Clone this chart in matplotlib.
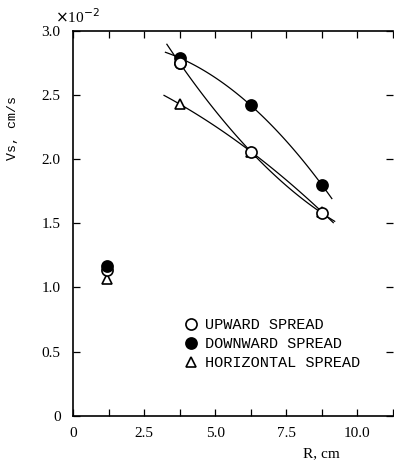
import numpy as np
import matplotlib
matplotlib.use("Agg")
import matplotlib.pyplot as plt
from matplotlib.lines import Line2D

# Data (values x 1e-2 cm/s)
R_up = [1.2, 3.75, 6.25, 8.75]
V_up = [1.14, 2.75, 2.06, 1.58]
R_down = [1.2, 3.75, 6.25, 8.75]
V_down = [1.17, 2.79, 2.42, 1.80]
R_hor = [1.2, 3.75, 6.25, 8.75]
V_hor = [1.065, 2.43, 2.06, 1.59]

labels = ["UPWARD SPREAD", "DOWNWARD SPREAD", "HORIZONTAL SPREAD"]
xticks = [0, 2.5, 5.0, 7.5, 10.0]
xtick_labels = ["0", "2.5", "5.0", "7.5", "10.0"]
yticks = [0, 0.5, 1.0, 1.5, 2.0, 2.5, 3.0]
ytick_labels = ["0", "0.5", "1.0", "1.5", "2.0", "2.5", "3.0"]

# fit-curve ranges
fit_ranges = {"up": (3.3, 9.2), "down": (3.25, 9.1), "hor": (3.2, 9.15)}

W, H = 394, 469
fig = plt.figure(figsize=(W / 100, H / 100), dpi=100)
ax = fig.add_axes([73 / W, (H - 415.7) / H, (393 - 73) / W, (415.7 - 31) / H])

serif = "Liberation Serif"
mono = "Liberation Mono"
lw = 0.9
ms = 7.5

def fitline(R, V, rng):
    c = np.polyfit(R[1:], V[1:], 2)
    xs = np.linspace(rng[0], rng[1], 100)
    ax.plot(xs, np.polyval(c, xs), color="black", lw=lw, zorder=2)

fitline(R_up, V_up, fit_ranges["up"])
fitline(R_down, V_down, fit_ranges["down"])
fitline(R_hor, V_hor, fit_ranges["hor"])

ax.plot(R_hor, V_hor, linestyle="none", marker="^", ms=ms, mfc="white", mec="black", mew=1.2, zorder=3)
ax.plot(R_up, V_up, linestyle="none", marker="o", ms=ms + 0.5, mfc="white", mec="black", mew=1.2, zorder=4)
ax.plot(R_down, V_down, linestyle="none", marker="o", ms=ms + 0.5, mfc="black", mec="black", mew=1.2, zorder=5)
ax.plot(R_up[1:2], V_up[1:2], linestyle="none", marker="o", ms=ms + 0.5, mfc="white", mec="black", mew=1.2, zorder=6)

ax.set_xlim(0, 11.25)
ax.set_ylim(0, 3.0)
ax.set_xticks(np.arange(0, 11.26, 1.25), minor=True)
ax.set_xticks(xticks)
ax.set_xticklabels(xtick_labels, fontfamily=serif, fontsize=11)
ax.set_yticks(yticks)
ax.set_yticklabels(ytick_labels, fontfamily=serif, fontsize=11)
ax.tick_params(axis="both", which="both", direction="in", top=True, right=True, width=0.9)
ax.tick_params(axis="both", which="major", length=5)
ax.tick_params(axis="x", which="minor", length=5)
ax.tick_params(axis="x", which="major", pad=8)
ax.tick_params(axis="y", which="major", pad=9)
for s in ax.spines.values():
    s.set_linewidth(1.2)
ax.spines["right"].set_visible(False)

handles = [
    Line2D([], [], linestyle="none", marker="o", ms=ms + 0.5, mfc="white", mec="black", mew=1.2),
    Line2D([], [], linestyle="none", marker="o", ms=ms + 0.5, mfc="black", mec="black", mew=1.2),
    Line2D([], [], linestyle="none", marker="^", ms=ms, mfc="white", mec="black", mew=1.2),
]
leg = ax.legend(handles, labels, frameon=False, loc="upper left",
                bbox_to_anchor=((183 - 73) / 320, (415.7 - 318) / 384.7),
                borderaxespad=0, borderpad=0, handlelength=1.0, handletextpad=0.45,
                labelspacing=0.34, prop={"family": mono, "size": 11})

fig.text(77 / W, 1 - 17 / H, r"$\times$10$^{-2}$", fontfamily=serif, fontsize=11,
         ha="center", va="center")
fig.text(13 / W, 1 - 128 / H, "Vs, cm/s", fontfamily=mono, fontsize=9.5,
         rotation=90, ha="center", va="center")
fig.text(321 / W, 1 - 454 / H, "R, cm", fontfamily=serif, fontsize=11,
         ha="center", va="center")

fig.savefig("out.png", dpi=100)
